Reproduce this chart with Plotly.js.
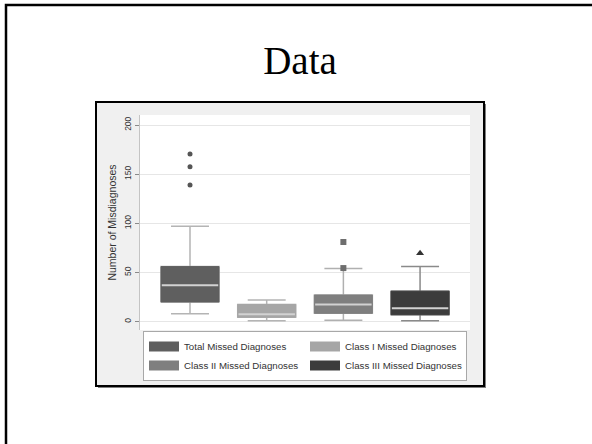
<!DOCTYPE html>
<html>
<head>
<meta charset="utf-8">
<script src="https://cdn.plot.ly/plotly-3.0.1.min.js"></script>
<style>html,body{margin:0;padding:0;background:#fff;}#chart{width:592px;height:444px;}</style>
</head>
<body>
<div id="chart"></div>
<script>
// ---- data ----
const categories = ['Total Missed Diagnoses', 'Class I Missed Diagnoses', 'Class II Missed Diagnoses', 'Class III Missed Diagnoses'];
const q1Values = [20, 4.5, 8.5, 7];
const medianValues = [37, 7.5, 17.5, 13.5];
const q3Values = [56, 17.5, 27, 31];
const lowerWhiskers = [8, 1, 1.5, 1];
const upperWhiskers = [97, 22, 54, 56];
const outlierValues = [[139, 157.5, 170.5], [], [54.5, 81], [69.5]];
const yTickValues = [0, 50, 100, 150, 200];

// ---- styles ----
const fillColors = ['#5f5f5f', '#a6a6a6', '#7f7f7f', '#3c3c3c'];
const whiskerColors = ['#b4b4b4', '#b4b4b4', '#b0b0b0', '#8a8a8a'];
const outlierSymbols = ['circle', 'circle', 'square', 'triangle-up'];
const outlierColors = ['#555555', '#555555', '#6e6e6e', '#333333'];
const outlierSizes = [5, 5, 6, 7];
const boxWidth = 0.756;
const font = 'Liberation Sans, Arial, sans-serif';

const traces = [];
categories.forEach((name, i) => {
  // whiskers + caps
  traces.push({
    type: 'box', x: [i], q1: [q1Values[i]], median: [medianValues[i]], q3: [q3Values[i]],
    lowerfence: [lowerWhiskers[i]], upperfence: [upperWhiskers[i]],
    width: boxWidth, whiskerwidth: 0.655,
    line: {color: whiskerColors[i], width: 1.5}, fillcolor: 'rgba(0,0,0,0)',
    showlegend: false, hoverinfo: 'skip'
  });
  // filled box body
  traces.push({
    type: 'box', x: [i], q1: [q1Values[i]], median: [medianValues[i]], q3: [q3Values[i]],
    lowerfence: [q1Values[i]], upperfence: [q3Values[i]],
    width: boxWidth, whiskerwidth: 0,
    line: {color: fillColors[i], width: 1}, fillcolor: fillColors[i],
    showlegend: false, hoverinfo: 'skip'
  });
});
categories.forEach((name, i) => {
  // median line
  traces.push({
    type: 'scatter', mode: 'lines',
    x: [i - boxWidth / 2 + 0.01, i + boxWidth / 2 - 0.01], y: [medianValues[i], medianValues[i]],
    line: {color: '#d2d2d2', width: 2}, showlegend: false, hoverinfo: 'skip'
  });
  // outliers
  if (outlierValues[i].length) {
    traces.push({
      type: 'scatter', mode: 'markers',
      x: outlierValues[i].map(() => i), y: outlierValues[i],
      marker: {symbol: outlierSymbols[i], color: outlierColors[i], size: outlierSizes[i]},
      showlegend: false, hoverinfo: 'skip'
    });
  }
});
// legend entries (order as in the reference)
[0, 1, 2, 3].forEach(i => {
  traces.push({
    type: 'scatter', mode: 'lines', x: [null], y: [null], name: categories[i],
    line: {color: fillColors[i], width: 10}, showlegend: true, hoverinfo: 'skip'
  });
});

const L = 140, R = 470, T = 115, B = 330;
const px = v => (v - L) / (R - L);
const py = v => (B - v) / (B - T);

const layout = {
  width: 592, height: 444, autosize: false,
  margin: {l: L, r: 592 - R, t: T, b: 444 - B, pad: 0},
  paper_bgcolor: '#ffffff', plot_bgcolor: '#ffffff',
  showlegend: true,
  boxmode: 'overlay',
  font: {family: font, color: '#333333'},
  title: {
    text: 'Data', x: 300 / 592, xanchor: 'center', y: 1 - 60 / 444, yanchor: 'middle',
    font: {family: 'Liberation Serif, Times New Roman, serif', size: 39, color: '#000000'}
  },
  xaxis: {range: [-0.652, 3.651], showticklabels: false, showgrid: false, zeroline: false, showline: false, ticks: '', fixedrange: true},
  yaxis: {
    range: [-8.5, 210.2], tickvals: yTickValues, ticktext: yTickValues.map(String),
    tickangle: -90, ticks: 'outside', ticklen: 4, tickcolor: '#8a8a8a', tickwidth: 1,
    showline: true, linecolor: '#c4c4c4', linewidth: 1.5,
    showgrid: true, gridcolor: '#e6e6e6', gridwidth: 1, zeroline: false,
    tickfont: {size: 8.5, color: '#333333', family: font},
    title: {text: 'Number of Misdiagnoses', font: {size: 10.5, color: '#333333', family: font}, standoff: 4},
    fixedrange: true
  },
  legend: {
    orientation: 'h', x: px(143), xanchor: 'left', y: py(331), yanchor: 'top',
    bgcolor: '#ffffff', bordercolor: '#a8a8a8', borderwidth: 1,
    font: {size: 9.7, color: '#333333', family: font},
    entrywidth: 116, entrywidthmode: 'pixels', tracegroupgap: 0, itemwidth: 30
  },
  shapes: [
    // slide border (left and top)
    {type: 'path', xref: 'paper', yref: 'paper', layer: 'below',
     path: `M ${px(6)},${py(450)} L ${px(6)},${py(5)} L ${px(600)},${py(5)}`,
     line: {color: '#000000', width: 2.5}},
    // frame shadow
    {type: 'rect', xref: 'paper', yref: 'paper', layer: 'below',
     x0: px(98), x1: px(486), y0: py(388), y1: py(104),
     fillcolor: '#808080', line: {width: 0}},
    // embedded picture frame
    {type: 'rect', xref: 'paper', yref: 'paper', layer: 'below',
     x0: px(96), x1: px(484), y0: py(386), y1: py(102),
     fillcolor: '#f0f0f0', line: {color: '#000000', width: 2}},
    // white plotting region
    {type: 'rect', xref: 'paper', yref: 'paper', layer: 'below',
     x0: 0, x1: 1, y0: 0, y1: 1,
     fillcolor: '#ffffff', line: {width: 0}}
  ]
};

Plotly.newPlot('chart', traces, layout, {staticPlot: true, displayModeBar: false});
</script>
</body>
</html>
